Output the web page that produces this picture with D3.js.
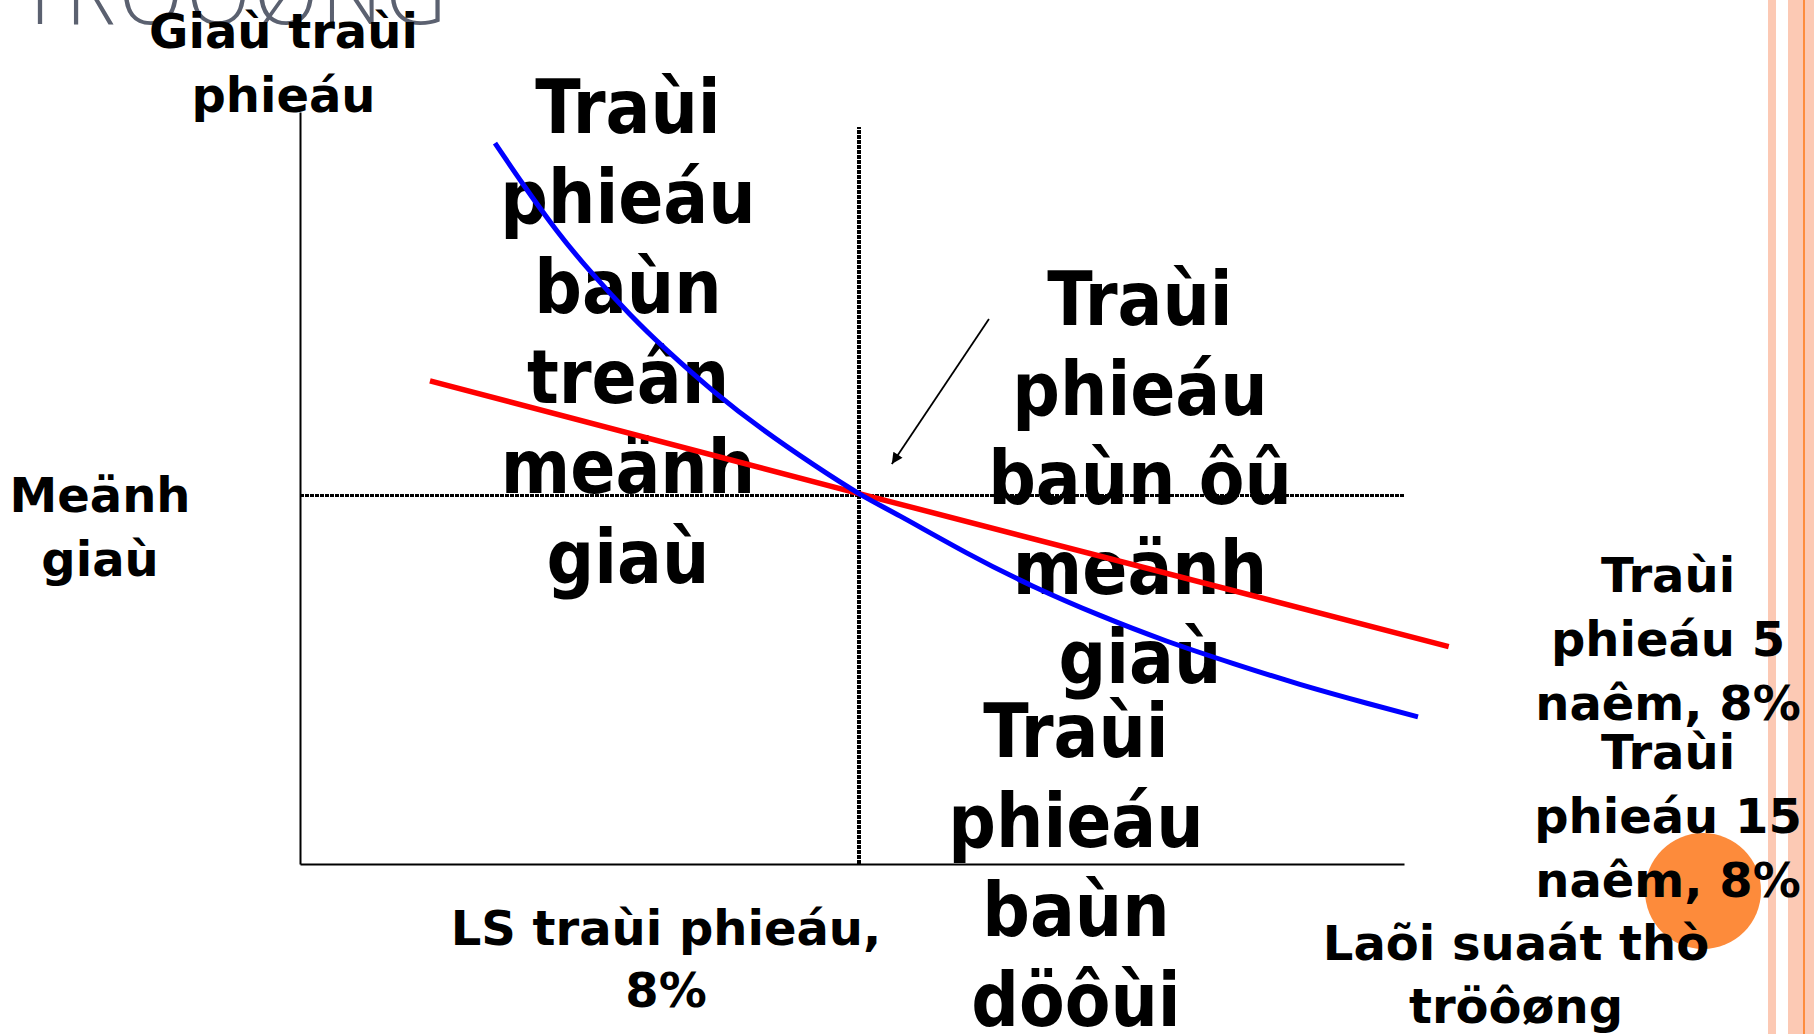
<!DOCTYPE html>
<html>
<head>
<meta charset="utf-8">
<script src="https://cdn.jsdelivr.net/npm/d3@7"></script>
<style>
  body { margin: 0; background: #fff; }
  .lbl { font-family: "DejaVu Sans", sans-serif; font-weight: bold; font-size: 48px; fill: #000; }
  .big { font-family: "DejaVu Sans Condensed", "DejaVu Sans", sans-serif; font-stretch: condensed; font-weight: bold; font-size: 74px; fill: #000; }
  .title { font-family: "Open Sans", sans-serif; font-weight: 300; font-size: 84px; fill: #5b6170; letter-spacing: 3.4px; }
</style>
</head>
<body>
<div id="chart"></div>
<script>
// bond prices (par = 100) against market rate (%)
const rate5 = [1.86, 8, 16.44];
const price5 = [130.4, 100, 58.7];

const rate15 = [2.79, 3.20, 3.67, 4.15, 4.72, 5.25, 5.92, 6.63, 7.35, 8.00,
  8.59, 9.54, 10.49, 11.45, 12.40, 13.36, 14.31, 15.27, 16.00];
const price15 = [194.6, 183.3, 171.1, 160.1, 148.4, 138.7, 127.6, 117.2, 107.8, 100.0,
  93.9, 84.0, 75.0, 67.1, 60.2, 54.1, 48.5, 43.4, 39.7];

const couponRate = 8;
const parPrice = 100;
const rateMax = 15.8;
const priceMax = 203;
const arrowFrom = [9.86, 147.1];
const arrowTo = [8.47, 108.0];

// texts
const title = 'TRÖÔØNG';
const yLabel = ['Giaù traùi', 'phieáu'];
const leftLabel = ['Meänh', 'giaù'];
const xLabel = ['LS traùi phieáu,', '8%'];
const marketLabel = ['Laõi suaát thò', 'tröôøng'];
const premiumText = ['Traùi', 'phieáu', 'baùn', 'treân', 'meänh', 'giaù'];
const parText = ['Traùi', 'phieáu', 'baùn ôû', 'meänh', 'giaù'];
const discountText = ['Traùi', 'phieáu', 'baùn', 'döôùi'];
const bond5Label = ['Traùi', 'phieáu 5', 'naêm, 8%'];
const bond15Label = ['Traùi', 'phieáu 15', 'naêm, 8%'];

const W = 1814, H = 1034;

const svg = d3.select('#chart')
  .append('svg')
  .attr('width', W)
  .attr('height', H);

// slide decoration on the right
svg.append('rect').attr('x', 1768).attr('y', 0).attr('width', 8).attr('height', H).attr('fill', '#fcc9b4');
svg.append('rect').attr('x', 1788).attr('y', 0).attr('width', 26).attr('height', H).attr('fill', '#fcc9b4');
svg.append('rect').attr('x', 1803).attr('y', 0).attr('width', 2).attr('height', H).attr('fill', '#fd8c3e');
svg.append('circle').attr('cx', 1703).attr('cy', 891).attr('r', 58).attr('fill', '#fd8b3b');

// cut-off slide title
svg.append('text').attr('class', 'title').attr('x', 18).attr('y', 24).text(title);

const x = d3.scaleLinear().domain([0, rateMax]).range([300, 1404]);
const y = d3.scaleLinear().domain([0, priceMax]).range([864, 112]);

function block(lines, cx, y0, dy, cls) {
  svg.append('g')
    .selectAll('text')
    .data(lines)
    .join('text')
    .attr('class', cls)
    .attr('x', cx)
    .attr('y', (d, i) => y0 + i * dy)
    .attr('text-anchor', 'middle')
    .text((d) => d);
}

block(yLabel, 283.5, 48, 64, 'lbl');
block(leftLabel, 100, 512, 64, 'lbl');
block(xLabel, 666, 945, 62, 'lbl');
block(marketLabel, 1516, 960, 63, 'lbl');
block(bond5Label, 1668, 592, 64, 'lbl');
block(bond15Label, 1668, 769, 64, 'lbl');
block(premiumText, 628, 133, 90, 'big');
block(parText, 1140, 325, 89.5, 'big');
block(discountText, 1076, 757, 89.5, 'big');

// axes without ticks
svg.append('g')
  .attr('transform', `translate(0,${y(0)})`)
  .call(d3.axisBottom(x).tickValues([]).tickSizeOuter(0))
  .select('.domain').attr('stroke-width', 2);
svg.append('g')
  .attr('transform', `translate(${x(0)},0)`)
  .call(d3.axisLeft(y).tickValues([]).tickSizeOuter(0))
  .select('.domain').attr('stroke-width', 2);

// dotted reference lines at coupon rate / par
svg.append('line')
  .attr('x1', x(couponRate)).attr('x2', x(couponRate))
  .attr('y1', y(0)).attr('y2', y(199))
  .attr('stroke', '#000').attr('stroke-width', 3.5).attr('stroke-dasharray', '4,1')
  .attr('shape-rendering', 'crispEdges');
svg.append('line')
  .attr('x1', x(0)).attr('x2', x(rateMax))
  .attr('y1', y(parPrice) + 2).attr('y2', y(parPrice) + 2)
  .attr('stroke', '#000').attr('stroke-width', 3.5).attr('stroke-dasharray', '4,1')
  .attr('shape-rendering', 'crispEdges');

const line = d3.line()
  .x((d) => x(d[0]))
  .y((d) => y(d[1]));

svg.append('path')
  .datum(d3.zip(rate5, price5))
  .attr('d', line)
  .attr('fill', 'none')
  .attr('stroke', '#ff0000')
  .attr('stroke-width', 5.5);

svg.append('path')
  .datum(d3.zip(rate15, price15))
  .attr('d', line.curve(d3.curveNatural))
  .attr('fill', 'none')
  .attr('stroke', '#0000ff')
  .attr('stroke-width', 5);

// arrow pointing at the crossing
svg.append('defs').append('marker')
  .attr('id', 'head')
  .attr('viewBox', '0 0 10 10')
  .attr('refX', 10).attr('refY', 5)
  .attr('markerWidth', 12).attr('markerHeight', 11)
  .attr('markerUnits', 'userSpaceOnUse')
  .attr('orient', 'auto')
  .append('path').attr('d', 'M0,0L10,5L0,10z').attr('fill', '#000');
svg.append('line')
  .attr('x1', x(arrowFrom[0])).attr('y1', y(arrowFrom[1]))
  .attr('x2', x(arrowTo[0])).attr('y2', y(arrowTo[1]))
  .attr('stroke', '#000').attr('stroke-width', 1.8)
  .attr('marker-end', 'url(#head)');
</script>
</body>
</html>
